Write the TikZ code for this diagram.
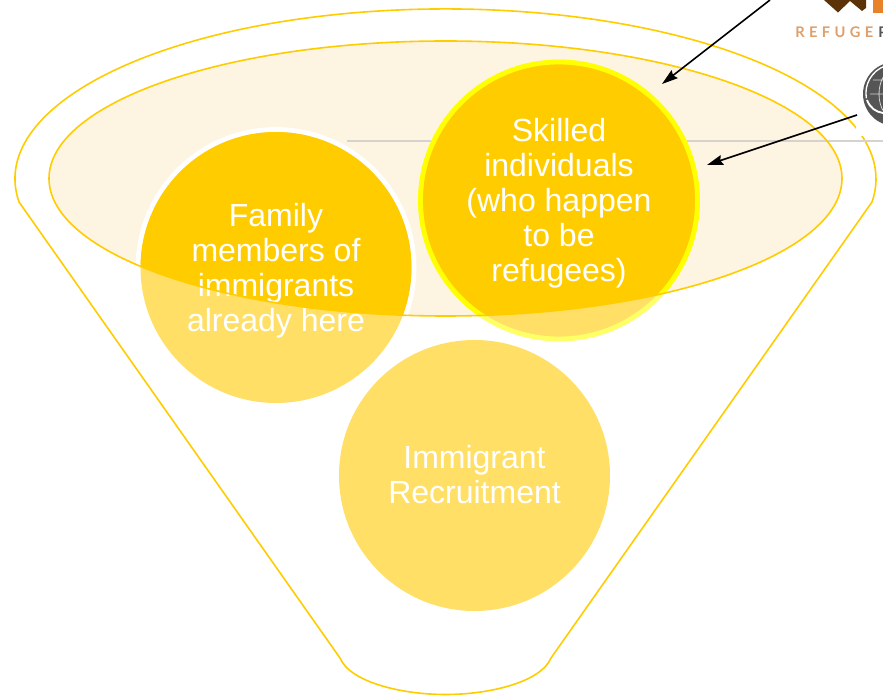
\documentclass[tikz,border=0pt]{standalone}
\usepackage{fontspec}
\setmainfont{Liberation Sans}
\newfontfamily\logofont[LetterSpace=30]{Lato}
\usetikzlibrary{arrows.meta}
\definecolor{funnelline}{HTML}{FFCC00}
\definecolor{funneltop}{HTML}{FEF4E2}
\definecolor{ballsoft}{HTML}{FFDF66}
\definecolor{ringsoft}{HTML}{FFFF66}
\definecolor{ringhard}{HTML}{FFFF00}
\definecolor{guide}{HTML}{D6D3CE}
\definecolor{logobrown}{HTML}{5C3208}
\definecolor{logoorange}{HTML}{E8832A}
\definecolor{logotan}{HTML}{DDA06C}
\definecolor{logogrey}{HTML}{555555}
\tikzset{
  ball/.style={circle,fill=ballsoft,inner sep=0pt,outer sep=0pt,minimum size=203.25pt},
  balltext/.style={text=white,align=center,font=\fontsize{24}{26.25}\selectfont},
  logotext/.style={anchor=base west,inner sep=0pt,font=\logofont\bfseries\fontsize{11}{11}\selectfont},
  rim/.style={line width=1.2pt,draw=funnelline},
  pointer/.style={line width=1.2pt,-{Stealth[length=12pt,width=7.5pt,inset=1.5pt]}}
}
\begin{document}
\begin{tikzpicture}[x=.75pt,y=-.75pt]
  \useasboundingbox (0,0) rectangle (883,698);
  \clip (0,0) rectangle (883,698);
  % fixed points
  \coordinate (mouth) at (445.5,178.5);
  \coordinate (cornerL) at (19,202);
  \coordinate (cornerR) at (872,202);
  \coordinate (spoutL) at (340,658);
  \coordinate (spoutR) at (551,658);
  \coordinate (spoutB) at (445.5,694.5);
  \coordinate (logoA) at (770,0);
  \coordinate (logoB) at (857,115);
  \coordinate (hitA) at (662,84);
  \coordinate (hitB) at (707,165);
  % funnel body
  \draw[rim] (cornerL) arc[start angle=172.2,end angle=367.8,x radius=430.5,y radius=170]
    -- (spoutR) .. controls (541,682) and (490,694.5) .. (spoutB)
    .. controls (401,694.5) and (350,682) .. (spoutL) -- cycle;
  \fill[funneltop] (mouth) ellipse [x radius=396.5,y radius=137.5];
  \coordinate (guideL) at (347,141);
  \coordinate (guideR) at (883,141);
  \draw[guide,line width=1.2pt] (guideL) -- (guideR);
  % logos
  \fill[white] (856,0) rectangle (883,136);
  \fill[logobrown] (824,0) -- (838,12.5) -- (850,1) -- (862,11) -- (866,8) -- (866,0) -- cycle;
  \fill[logoorange] (873,0) rectangle (883,13);
  \node[logotext,text=logotan] (refuge) at (795,38) {REFUGE};
  \node[logotext,text=logogrey] (point) at (878,38) {P};
  \fill[logogrey] (895,94) circle [radius=32];
  \draw[white,line width=1pt] (885,66) arc [start angle=250,end angle=170,radius=29];
  \draw[white,line width=1.4pt] (867,100) .. controls (870,108) and (876,112) .. (883,113);
  \draw[white!75!logogrey,line width=.6pt] (895,94) circle [x radius=16,y radius=25] (870,94) -- (883,94) (873,80) -- (883,80);
  % balls, pale first
  \node[ball,minimum size=207.75pt,draw=ringsoft,line width=3.6pt] (skilled) at (559,200.5) {};
  \node[ball] (family) at (276,267.5) {};
  \node[ball] (recruit) at (474.5,475.5) {};
  \begin{scope}
    \clip (mouth) ellipse [x radius=396.5,y radius=137.5];
    \draw[white,line width=3.6pt] (family) circle [radius=138];
    \fill[funnelline] (family) circle [radius=135.5];
    \draw[ringhard,line width=3.6pt,fill=funnelline] (skilled) circle [radius=138.5];
  \end{scope}
  % labels
  \node[balltext] (familytext) at (276,270.5) {Family\\members of\\immigrants\\already here};
  \node[balltext] (skilledtext) at (559,203.5) {Skilled\\individuals\\(who happen\\to be\\refugees)};
  \node[balltext] (recruittext) at (474.5,474.5) {Immigrant\\Recruitment};
  \draw[rim] (mouth) ellipse [x radius=396.5,y radius=137.5];
  % pointers
  \draw[pointer] (logoA) -- (hitA);
  \draw[pointer] (logoB) -- (hitB);
\end{tikzpicture}
\end{document}
